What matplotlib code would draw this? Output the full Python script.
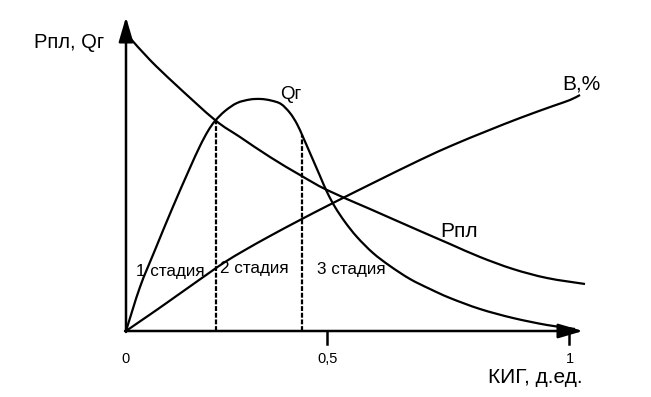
import numpy as np
import matplotlib
matplotlib.use("Agg")
import matplotlib.pyplot as plt
from matplotlib.path import Path
from matplotlib.patches import PathPatch

plt.rcParams['font.family'] = ['Liberation Sans', 'DejaVu Sans']

# Schematic chart units (x: recovery progress, y: relative level)
rpl_x = [4, 24, 49, 89, 114, 144, 174, 201, 244, 294, 324, 354, 387, 421, 459]
rpl_y = [293, 271, 247, 211, 194, 174, 156, 141, 122, 100, 87, 74, 62, 53, 47]

qg_x = [0, 14, 29, 46, 63, 74, 82, 89, 99, 111, 124, 135, 145, 155, 164, 171,
        177, 184, 194, 201, 209, 219, 231, 247, 264, 284, 304, 324, 354, 387, 421, 449]
qg_y = [0, 44, 81, 122, 161, 185, 200, 210, 220, 228, 231.5, 232, 230.5, 227, 218, 207,
        194, 178, 155, 139, 124, 109, 94, 78, 65, 52, 42, 33, 22, 13, 6, 2]

b_x = [0, 16, 32, 49, 66, 83, 99, 119, 144, 174, 207, 247, 294, 327, 361, 394, 427, 444, 454]
b_y = [0, 11, 22, 34, 46, 58, 69, 81, 95, 111, 128, 148, 171, 186, 200, 213, 225, 231, 236]

stage_bounds = [90, 176]
tick_pos = [0, 201, 443]
tick_labels = ['0', '0,5', '1']
stage_labels = ['1 стадия', '2 стадия', '3 стадия']

fig = plt.figure(figsize=(6.51, 3.97), dpi=100)
ax = fig.add_axes([0, 0, 1, 1])
ax.set_xlim(-126, 525)
ax.set_ylim(-66, 331)
ax.axis('off')


def smooth_path(xs, ys):
    """Catmull-Rom curve through the given points, drawn as cubic Bezier path."""
    p = np.column_stack([xs, ys]).astype(float)
    n = len(p)
    verts = [p[0]]
    codes = [Path.MOVETO]
    for i in range(n - 1):
        p0 = p[i - 1] if i > 0 else p[i]
        p1 = p[i]
        p2 = p[i + 1]
        p3 = p[i + 2] if i + 2 < n else p[i + 1]
        c1 = p1 + (p2 - p0) / 6.0
        c2 = p2 - (p3 - p1) / 6.0
        verts += [c1, c2, p2]
        codes += [Path.CURVE4] * 3
    return Path(verts, codes)


lw = 1.6
for xs, ys in [(rpl_x, rpl_y), (qg_x, qg_y), (b_x, b_y)]:
    ax.add_patch(PathPatch(smooth_path(xs, ys), fill=False, edgecolor='black',
                           lw=lw, capstyle='butt', joinstyle='round'))

# stage boundaries
peak = int(np.argmax(qg_y))
for xb in stage_bounds:
    if xb < qg_x[peak]:
        top = np.interp(xb, qg_x[:peak + 1], qg_y[:peak + 1])
    else:
        top = np.interp(xb, qg_x[peak:], qg_y[peak:])
    ax.plot([xb, xb], [0, top], color='black', lw=1.6, linestyle=(0, (2.2, 0.8)))

# axes with arrows
arrow = dict(arrowstyle='-|>,head_length=0.75,head_width=0.22', color='black', lw=1.8,
             shrinkA=0, shrinkB=0, mutation_scale=20)
ax.annotate('', xy=(0, 314), xytext=(0, -1), arrowprops=arrow)
ax.annotate('', xy=(457, 0), xytext=(-1, 0), arrowprops=arrow)

# ticks
for tp in tick_pos[1:]:
    ax.plot([tp, tp], [0, -13], color='black', lw=1.8)
for tp, tl in zip(tick_pos, tick_labels):
    ax.text(tp + (1 if tl != '0' else 0), -32, tl, ha='center', va='baseline', fontsize=10.5)

# labels
ax.text(-92, 283, 'Рпл, Qг', ha='left', va='baseline', fontsize=14.5)
ax.text(154, 232, 'Qг', ha='left', va='baseline', fontsize=13.5)
ax.text(436, 242, 'В,%', ha='left', va='baseline', fontsize=15)
ax.text(314, 94, 'Рпл', ha='left', va='baseline', fontsize=15)
ax.text(457, -52, 'КИГ, д.ед.', ha='right', va='baseline', fontsize=15)

stage_pos = [(10, 55), (94, 58), (191, 57)]
for (sx, sy), sl in zip(stage_pos, stage_labels):
    ax.text(sx, sy, sl, ha='left', va='baseline', fontsize=12.3)

fig.savefig('out.png', dpi=100)
